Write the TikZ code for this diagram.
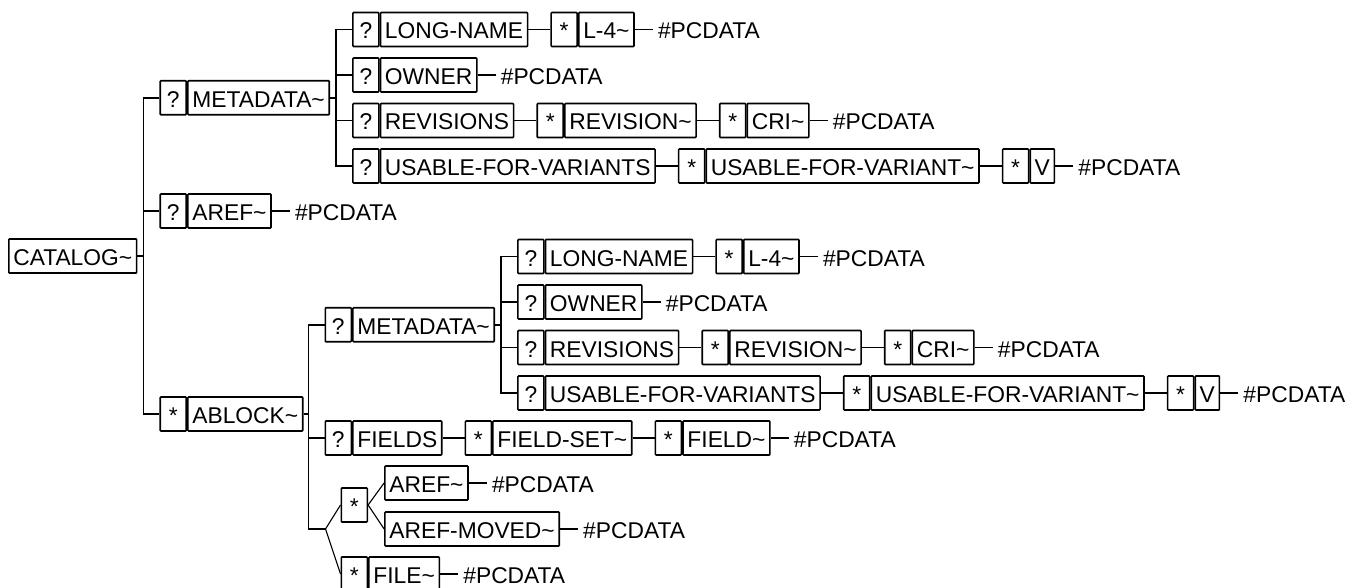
\documentclass[tikz,border=0pt]{standalone}
\usepackage{fontspec}
\newfontfamily\dtdfont{Liberation Sans}
\tikzset{
  nb/.style={draw, line width=1.6pt, rounded corners=0.8pt, minimum height=34pt,
    inner xsep=4.5pt, inner ysep=0pt, anchor=west,
    font=\dtdfont\fontsize{22.8}{27}\selectfont, text height=19pt, text depth=0pt},
  mk/.style={nb, minimum width=26pt, inner xsep=0pt},
  pc/.style={anchor=west, inner xsep=5pt, inner ysep=0pt,
    font=\dtdfont\fontsize{22.8}{27}\selectfont, text height=19pt, text depth=0pt},
  ln/.style={line width=1.8pt},
  dg/.style={line width=1.1pt}
}
\newcommand\mdtree[1]{%
  \coordinate (#1t) at ([xshift=6pt]#1md.east);
  % row 1
  \node[mk,xshift=16pt,yshift=68.25pt] (#1lnq) at (#1t) {?};
  \node[nb] (#1ln) at (#1lnq.east) {LONG-NAME};
  \node[mk,xshift=22pt] (#1l4q) at (#1ln.east) {*};
  \node[nb] (#1l4) at (#1l4q.east) {L-4\textasciitilde};
  \node[pc,xshift=18pt] (#1l4p) at (#1l4.east) {\#PCDATA};
  % row 2
  \node[mk,xshift=16pt,yshift=22.75pt] (#1owq) at (#1t) {?};
  \node[nb] (#1ow) at (#1owq.east) {OWNER};
  \node[pc,xshift=18pt] (#1owp) at (#1ow.east) {\#PCDATA};
  % row 3
  \node[mk,xshift=16pt,yshift=-22.75pt] (#1rsq) at (#1t) {?};
  \node[nb] (#1rs) at (#1rsq.east) {REVISIONS};
  \node[mk,xshift=22pt] (#1rvq) at (#1rs.east) {*};
  \node[nb] (#1rv) at (#1rvq.east) {REVISION\textasciitilde};
  \node[mk,xshift=22pt] (#1crq) at (#1rv.east) {*};
  \node[nb] (#1cr) at (#1crq.east) {CRI\textasciitilde};
  \node[pc,xshift=18pt] (#1crp) at (#1cr.east) {\#PCDATA};
  % row 4
  \node[mk,xshift=16pt,yshift=-68.25pt] (#1usq) at (#1t) {?};
  \node[nb] (#1us) at (#1usq.east) {USABLE-FOR-VARIANTS};
  \node[mk,xshift=22pt] (#1uvq) at (#1us.east) {*};
  \node[nb] (#1uv) at (#1uvq.east) {USABLE-FOR-VARIANT\textasciitilde};
  \node[mk,xshift=22pt] (#1vq) at (#1uv.east) {*};
  \node[nb] (#1v) at (#1vq.east) {V};
  \node[pc,xshift=18pt] (#1vp) at (#1v.east) {\#PCDATA};
  % connectors
  \draw[ln] (#1md.east) -- (#1t);
  \draw[ln] (#1lnq.west) -| (#1t) |- (#1usq.west);
  \draw[ln] (#1owq.west) -- (#1owq.west -| #1t);
  \draw[ln] (#1rsq.west) -- (#1rsq.west -| #1t);
  \draw[ln] (#1ln.east) -- (#1l4q.west);
  \draw[ln] (#1l4.east) -- (#1l4p.west);
  \draw[ln] (#1ow.east) -- (#1owp.west);
  \draw[ln] (#1rs.east) -- (#1rvq.west);
  \draw[ln] (#1rv.east) -- (#1crq.west);
  \draw[ln] (#1cr.east) -- (#1crp.west);
  \draw[ln] (#1us.east) -- (#1uvq.west);
  \draw[ln] (#1uv.east) -- (#1vq.west);
  \draw[ln] (#1v.east) -- (#1vp.west);
}
\begin{document}
\begin{tikzpicture}[x=1pt,y=-1pt]
\useasboundingbox (0,0) rectangle (1358,588);
% root
\node[nb] (cat) at (8,256) {CATALOG\textasciitilde};
\coordinate (t1) at ([xshift=6pt]cat.east);
\node[mk,xshift=16pt] (umdq) at (t1 |- 0,97.75) {?};
\node[nb] (umd) at (umdq.east) {METADATA\textasciitilde};
\node[mk,xshift=16pt] (arq) at (t1 |- 0,211) {?};
\node[nb] (ar) at (arq.east) {AREF\textasciitilde};
\node[pc,xshift=18pt] (arp) at (ar.east) {\#PCDATA};
\node[mk,xshift=16pt] (abq) at (t1 |- 0,414) {*};
\node[nb] (ab) at (abq.east) {ABLOCK\textasciitilde};
\draw[ln] (cat.east) -- (t1);
\draw[ln] (umdq.west) -| (t1) |- (abq.west);
\draw[ln] (arq.west) -- (arq.west -| t1);
\draw[ln] (ar.east) -- (arp.west);
\mdtree{u}
% ABLOCK subtree
\coordinate (t2) at ([xshift=5pt]ab.east);
\node[mk,xshift=16pt] (lmdq) at (t2 |- 0,324.75) {?};
\node[nb] (lmd) at (lmdq.east) {METADATA\textasciitilde};
\mdtree{l}
\node[mk,xshift=16pt] (fsq) at (t2 |- 0,438) {?};
\node[nb] (fs) at (fsq.east) {FIELDS};
\node[mk,xshift=22pt] (fstq) at (fs.east) {*};
\node[nb] (fst) at (fstq.east) {FIELD-SET\textasciitilde};
\node[mk,xshift=22pt] (fdq) at (fst.east) {*};
\node[nb] (fd) at (fdq.east) {FIELD\textasciitilde};
\node[pc,xshift=18pt] (fdp) at (fd.east) {\#PCDATA};
\coordinate[xshift=17pt] (j) at (t2 |- 0,529);
\node[mk,xshift=15pt] (chq) at (j |- 0,505) {*};
\node[nb,xshift=16pt] (car) at (chq.east |- 0,483) {AREF\textasciitilde};
\node[pc,xshift=18pt] (carp) at (car.east) {\#PCDATA};
\node[nb,xshift=16pt] (cam) at (chq.east |- 0,529) {AREF-MOVED\textasciitilde};
\node[pc,xshift=18pt] (camp) at (cam.east) {\#PCDATA};
\node[mk,xshift=15pt] (fiq) at (j |- 0,574) {*};
\node[nb] (fi) at (fiq.east) {FILE\textasciitilde};
\node[pc,xshift=18pt] (fip) at (fi.east) {\#PCDATA};
\draw[ln] (ab.east) -- (t2);
\draw[ln] (lmdq.west) -| (t2) |- (j);
\draw[ln] (fsq.west) -- (fsq.west -| t2);
\draw[ln] (fs.east) -- (fstq.west);
\draw[ln] (fst.east) -- (fdq.west);
\draw[ln] (fd.east) -- (fdp.west);
\draw[dg] (j) -- (chq.west);
\draw[dg] (j) -- (fiq.west);
\draw[dg] (chq.east) -- (car.west);
\draw[dg] (chq.east) -- (cam.west);
\draw[ln] (car.east) -- (carp.west);
\draw[ln] (cam.east) -- (camp.west);
\draw[ln] (fi.east) -- (fip.west);
\end{tikzpicture}
\end{document}
